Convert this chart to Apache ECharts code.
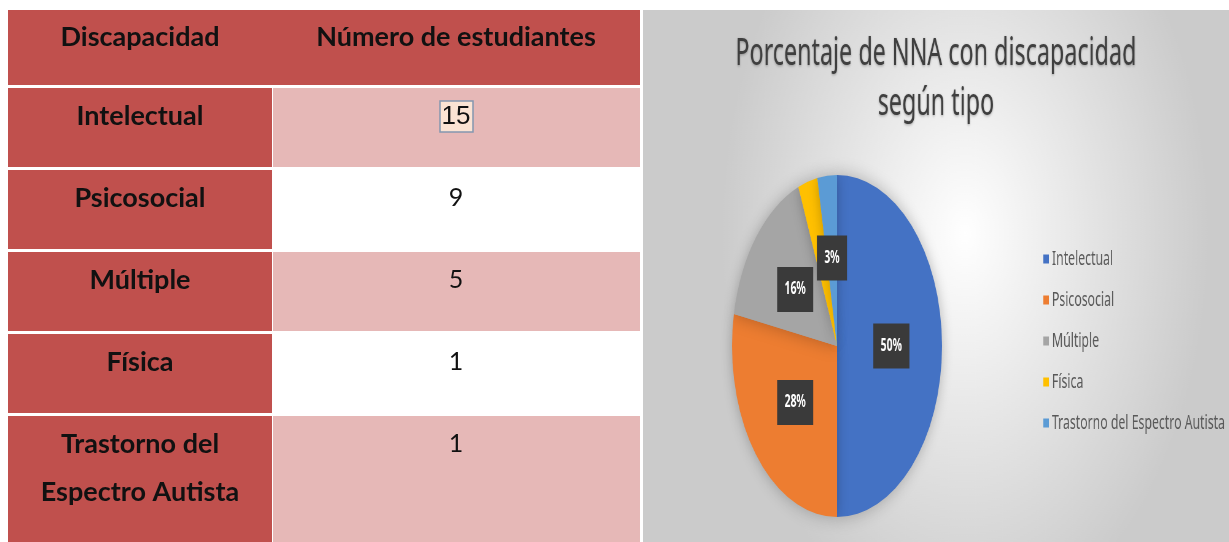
<!DOCTYPE html>
<html>
<head>
<meta charset="utf-8">
<script src="https://cdn.jsdelivr.net/npm/echarts@6/dist/echarts.min.js"></script>
<style>
  html, body { margin: 0; padding: 0; background: #fff; }
  #main { position: absolute; left: 0; top: 0; width: 1229px; height: 542px; }
  /* el gráfico original está comprimido horizontalmente */
  #pie { position: absolute; left: 643px; top: 10px; width: 954px; height: 532px;
         transform: scaleX(0.614); transform-origin: 0 0; }
</style>
</head>
<body>
<div id="main"></div>
<div id="pie"></div>
<script>
// datos de la tabla
var headers = ['Discapacidad', 'Número de estudiantes'];
var categories = ['Intelectual', 'Psicosocial', 'Múltiple', 'Física', 'Trastorno del\nEspectro Autista'];
var students = [15, 9, 5, 1, 1];

// datos del gráfico circular
var pieNames = ['Intelectual', 'Psicosocial', 'Múltiple', 'Física', 'Trastorno del Espectro Autista'];
var pieShares = [50, 28, 16, 3, 3];
var pieColors = ['#4472C4', '#ED7D31', '#A5A5A5', '#FFC000', '#5B9BD5'];

// tabla (dibujada con graphic)
var left = 8, split = 272, right = 640;
var headTop = 10, headH = 75;
var rowTop0 = 88, rowStep = 82, rowH = 79;
var dark = '#C0504D', light = '#E6B8B7';
var font = 'Lato, "Open Sans", sans-serif';

var els = [];
els.push({ type: 'rect', shape: { x: left, y: headTop, width: right - left, height: headH }, style: { fill: dark } });
headers.forEach(function (h, i) {
  var cx = i === 0 ? (left + split) / 2 : (split + right) / 2;
  els.push({ type: 'text', x: cx, y: headTop + 27,
    style: { text: h, fill: '#111', font: 'bold 27px ' + font, align: 'center', verticalAlign: 'middle' } });
});

categories.forEach(function (c, i) {
  var top = rowTop0 + i * rowStep;
  var h = i === categories.length - 1 ? 542 - top : rowH;
  els.push({ type: 'rect', shape: { x: left, y: top, width: split - left, height: h }, style: { fill: dark } });
  els.push({ type: 'rect', shape: { x: split + 1, y: top, width: right - split - 1, height: h },
    style: { fill: i % 2 === 0 ? light : '#ffffff' } });
  els.push({ type: 'text', x: (left + split) / 2, y: top + 4,
    style: { text: c, fill: '#111', font: 'bold 27px ' + font, align: 'center', verticalAlign: 'top',
             lineHeight: 48 } });
  var ncx = (split + right) / 2;
  if (i === 0) {
    els.push({ type: 'rect', shape: { x: ncx - 16, y: top + 13, width: 33, height: 31 },
      style: { fill: '#FBE3D3', stroke: '#8497B0', lineWidth: 1.5 } });
    els.push({ type: 'text', x: ncx, y: top + 29,
      style: { text: String(students[i]), fill: '#111', font: '26px "Liberation Sans", Arial, sans-serif',
               align: 'center', verticalAlign: 'middle' } });
  } else {
    els.push({ type: 'text', x: ncx, y: top + 28,
      style: { text: String(students[i]), fill: '#111', font: '25px ' + font, align: 'center', verticalAlign: 'middle' } });
  }
});

var mainChart = echarts.init(document.getElementById('main'));
mainChart.setOption({ animation: false, graphic: { elements: els } });

// gráfico circular
var pieChart = echarts.init(document.getElementById('pie'));
pieChart.setOption({
  animation: false,
  backgroundColor: new echarts.graphic.RadialGradient(0.55, 0.42, 0.75, [
    { offset: 0, color: '#ffffff' },
    { offset: 1, color: '#cbcbcb' }
  ]),
  color: pieColors,
  title: {
    text: 'Porcentaje de NNA con discapacidad\nsegún tipo',
    left: 'center',
    top: 14,
    textStyle: {
      fontFamily: '"Noto Sans", sans-serif',
      fontSize: 38,
      fontWeight: 'normal',
      lineHeight: 50,
      color: '#3f3f3f',
      textShadowColor: 'rgba(0,0,0,0.3)',
      textShadowBlur: 3,
      textShadowOffsetY: 1
    }
  },
  legend: {
    orient: 'vertical',
    left: 647,
    top: 234,
    itemGap: 21,
    itemWidth: 9,
    itemHeight: 9,
    icon: 'rect',
    textStyle: { fontFamily: '"Noto Sans", sans-serif', fontSize: 20, color: '#595959' },
    data: pieNames
  },
  series: [{
    type: 'pie',
    center: [316, 336],
    radius: 171,
    startAngle: 90,
    clockwise: true,
    itemStyle: { shadowBlur: 18, shadowColor: 'rgba(0,0,0,0.25)' },
    label: {
      show: true,
      position: 'inside',
      formatter: '{c}%',
      color: '#fff',
      fontFamily: '"Noto Sans", sans-serif',
      fontWeight: 'bold',
      fontSize: 17,
      backgroundColor: '#3a3a3a',
      padding: [14, 12]
    },
    labelLine: { show: false },
    data: pieNames.map(function (n, i) { return { name: n, value: pieShares[i] }; })
  }]
});
</script>
</body>
</html>
